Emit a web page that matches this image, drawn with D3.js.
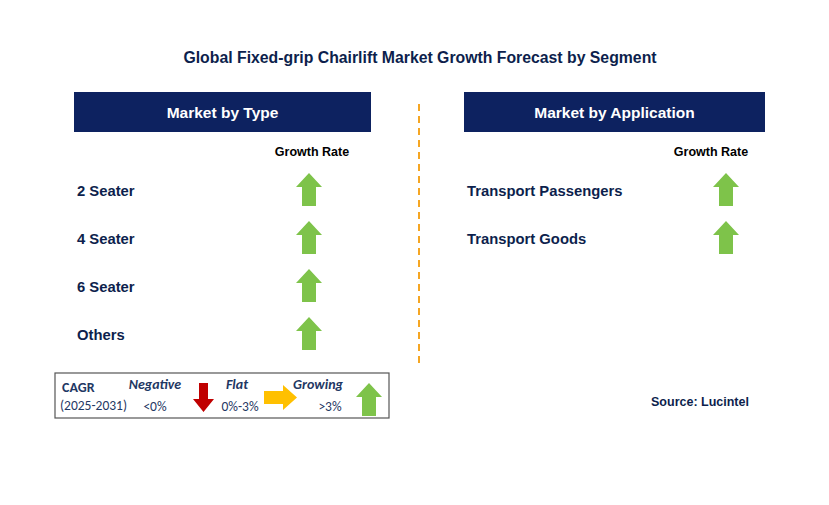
<!DOCTYPE html>
<html><head><meta charset="utf-8">
<script src="https://cdn.jsdelivr.net/npm/d3@7"></script>
<style>body{margin:0;background:#fff}</style></head>
<body><svg id="c" width="829" height="505"></svg>
<script>
const title = "Global Fixed-grip Chairlift Market Growth Forecast by Segment";
const typeCategories = ["2 Seater","4 Seater","6 Seater","Others"];
const typeGrowth = ["up","up","up","up"];
const appCategories = ["Transport Passengers","Transport Goods"];
const appGrowth = ["up","up"];
const panelTitles = ["Market by Type","Market by Application"];
const legendLabels = ["Negative","Flat","Growing"];
const legendRanges = ["<0%","0%-3%",">3%"];

const svg = d3.select("#c");
const F = "Arial, 'Liberation Sans', sans-serif";
const FL = "Calibri, Carlito, 'Open Sans', sans-serif";
svg.append("text").attr("x",420).attr("y",63).attr("text-anchor","middle")
  .attr("font-family",F).attr("font-weight","bold").attr("font-size",15.8).attr("fill","#0d1f4d").text(title);

function upArrow(g,cx,top){
  const w=26,h=33,sw=14,hh=14;
  g.append("path").attr("fill","#7ec34a")
   .attr("d",`M${cx},${top} L${cx+w/2},${top+hh} L${cx+sw/2},${top+hh} L${cx+sw/2},${top+h} L${cx-sw/2},${top+h} L${cx-sw/2},${top+hh} L${cx-w/2},${top+hh} Z`);
}
const y = d3.scalePoint().domain(d3.range(4)).range([190,334]);
function panel(x0,x1,ttl,cats,growth,arrowX,ax){
  svg.append("rect").attr("x",x0).attr("y",92).attr("width",x1-x0).attr("height",40).attr("fill","#0d2260");
  svg.append("text").attr("x",(x0+x1)/2).attr("y",118).attr("text-anchor","middle").attr("font-family",F)
    .attr("font-weight","bold").attr("font-size",15.5).attr("fill","#fff").text(ttl);
  svg.append("text").attr("x",arrowX).attr("y",156).attr("text-anchor","middle").attr("font-family",F)
    .attr("font-weight","bold").attr("font-size",12.5).attr("fill","#000").text("Growth Rate");
  cats.forEach((c,i)=>{
    svg.append("text").attr("x",x0+3).attr("y",y(i)+6).attr("font-family",F).attr("font-weight","bold")
      .attr("font-size",14.8).attr("fill","#0d1f4d").text(c);
    if(growth[i]==="up") upArrow(svg,ax,y(i)-17);
  });
}
panel(74,371,panelTitles[0],typeCategories,typeGrowth,312,309);
panel(464,765,panelTitles[1],appCategories,appGrowth,711,726);
svg.append("line").attr("x1",419).attr("x2",419).attr("y1",104).attr("y2",365)
  .attr("stroke","#f5a623").attr("stroke-width",2).attr("stroke-dasharray","7,5");

const L=svg.append("g");
L.append("rect").attr("x",55).attr("y",373).attr("width",334).attr("height",45).attr("fill","#fff").attr("stroke","#555").attr("stroke-width",1.2);
L.append("text").attr("x",62).attr("y",392).attr("font-family",FL).attr("font-weight","bold").attr("font-size",14).attr("fill","#1f3864").text("CAGR");
L.append("text").attr("x",60).attr("y",410).attr("font-family",FL).attr("font-size",13.5).attr("fill","#1f3864").text("(2025-2031)");
const lx=[155,237,318], rx=[155,240,330];
legendLabels.forEach((t,i)=>{
  L.append("text").attr("x",lx[i]).attr("y",389).attr("text-anchor","middle").attr("font-family",FL).attr("font-style","italic")
   .attr("font-weight","bold").attr("font-size",14).attr("fill","#1f3864").text(t);
  L.append("text").attr("x",rx[i]).attr("y",411).attr("text-anchor","middle").attr("font-family",FL)
   .attr("font-size",13.5).attr("fill","#1f3864").text(legendRanges[i]);
});
L.append("path").attr("fill","#c00000").attr("d","M199,383 L208,383 L208,399 L214,399 L203.5,412 L193,399 L199,399 Z");
L.append("path").attr("fill","#ffc000").attr("d","M264,391 L283,391 L283,385 L297,397.5 L283,410 L283,404 L264,404 Z");
upArrow(L,369,383);
svg.append("text").attr("x",700).attr("y",406).attr("text-anchor","middle").attr("font-family",F).attr("font-weight","bold")
  .attr("font-size",12.5).attr("fill","#0d1f4d").text("Source: Lucintel");
</script></body></html>
